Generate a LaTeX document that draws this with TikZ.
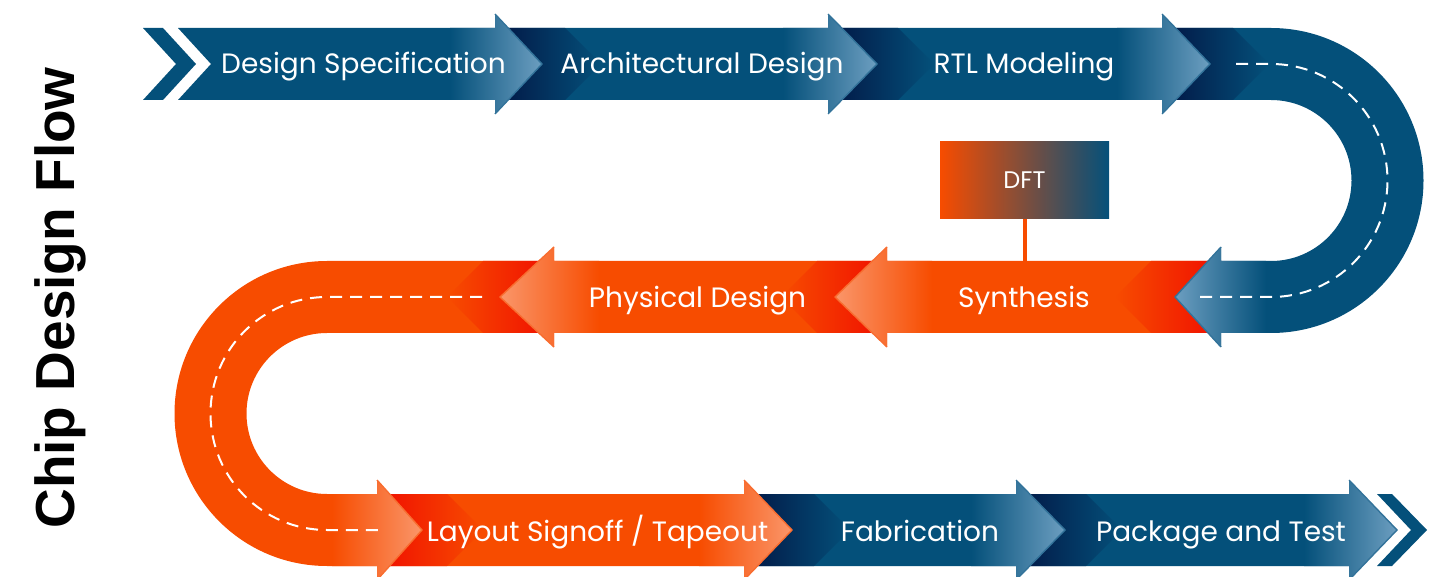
\documentclass[tikz,border=0pt]{standalone}
\usepackage{fontspec}
\setmainfont{Poppins}
\newfontfamily\titlefont{Liberation Sans}

\definecolor{flowblue}{RGB}{4,80,122}
\definecolor{flownavy}{RGB}{2,22,68}
\definecolor{flowblueTip}{RGB}{108,158,192}
\definecolor{floworange}{RGB}{247,76,0}
\definecolor{flowred}{RGB}{240,14,0}
\definecolor{floworangeTip}{RGB}{250,150,106}

\tikzset{
  steplabel/.style={text=white, font=\fontsize{14}{16}\selectfont, anchor=base, inner sep=0pt},
  roaddash/.style={draw=white, line width=1pt, dash pattern=on 6pt off 4pt},
  dftbox/.style={left color=floworange, right color=flowblue, minimum width=84.5pt,
    minimum height=38.5pt, inner sep=0pt, text=white, font=\fontsize{12}{14}\selectfont},
}

% arrow head of a band pointing right: base x, tip x, centre y, band colour, tip colour
\newcommand{\flowRhead}[5]{%
  \shade[left color=#4, right color=#5] (#1-45,#3-36) -- (#1,#3-36) -- (#1,#3-50) -- (#2,#3)
    -- (#1,#3+50) -- (#1,#3+36) -- (#1-45,#3+36) -- cycle;
  \draw[line width=0.7pt, #5!45!#4] (#1,#3-50) -- (#2,#3) -- (#1,#3+50);}
% arrow head of a band pointing left
\newcommand{\flowLhead}[5]{%
  \shade[right color=#4, left color=#5] (#1+45,#3-36) -- (#1,#3-36) -- (#1,#3-50) -- (#2,#3)
    -- (#1,#3+50) -- (#1,#3+36) -- (#1+45,#3+36) -- cycle;
  \draw[line width=0.7pt, #5!45!#4] (#1,#3-50) -- (#2,#3) -- (#1,#3+50);}
% band segment pointing right: start x, head base x, tip x, centre y, band, shadow, tip colour
\newcommand{\flowR}[7]{%
  \fill[#5] (#1,#4-36) -- (#2,#4-36) -- (#2,#4-50) -- (#3,#4) -- (#2,#4+50) -- (#2,#4+36)
    -- (#1,#4+36) -- cycle;
  \shade[left color=#6, right color=#5] (#1,#4-36) -- (#1+70,#4-36) -- (#1+106,#4)
    -- (#1+70,#4+36) -- (#1,#4+36) -- cycle;
  \flowRhead{#2}{#3}{#4}{#5}{#7}}
% band segment pointing left
\newcommand{\flowL}[7]{%
  \fill[#5] (#1,#4-36) -- (#2,#4-36) -- (#2,#4-50) -- (#3,#4) -- (#2,#4+50) -- (#2,#4+36)
    -- (#1,#4+36) -- cycle;
  \shade[right color=#6, left color=#5] (#1,#4-36) -- (#1-70,#4-36) -- (#1-106,#4)
    -- (#1-70,#4+36) -- (#1,#4+36) -- cycle;
  \flowLhead{#2}{#3}{#4}{#5}{#7}}

\begin{document}
\begin{tikzpicture}[x=0.5pt, y=-0.5pt]
\useasboundingbox (0,0) rectangle (1436,577);

% ---- bottom row, laid down from the end backwards so each head sits on the next band
\flowR{1016}{1349}{1397}{530}{flowblue}{flownavy}{flowblueTip}
\fill[flowblue] (1377,494) -- (1392,494) -- (1427,530) -- (1392,566) -- (1377,566) -- (1411,530) -- cycle;
\flowR{744}{1016}{1065}{530}{flowblue}{flownavy}{flowblueTip}
\flowR{377}{744}{792}{530}{floworange}{flowred}{floworangeTip}

% ---- left U-turn
\fill[floworange] (553,261) -- (327,261) arc[start angle=90, end angle=270, radius=76.25pt]
  -- (377,566) -- (377,580) -- (422,530) -- (377,480) -- (377,494) -- (327,494)
  arc[start angle=270, end angle=90, radius=40.25pt] -- (553,333) -- cycle;
\shade[right color=flowred, left color=floworange] (553,261) -- (483,261) -- (447,297)
  -- (483,333) -- (553,333) -- cycle;
\flowRhead{377}{422}{530}{floworange}{floworangeTip}
\draw[roaddash] (482,297) -- (327,297) arc[start angle=90, end angle=270, radius=58.25pt] -- (385,530);

% ---- middle row
\flowL{887}{554}{500}{297}{floworange}{flowred}{floworangeTip}
\flowL{1221}{887}{835}{297}{floworange}{flowred}{floworangeTip}

% ---- right U-turn
\fill[flowblue] (1163,28) -- (1271,28) arc[start angle=90, end angle=-90, radius=76.25pt]
  -- (1221,333) -- (1221,347) -- (1175,297) -- (1221,247) -- (1221,261) -- (1271,261)
  arc[start angle=-90, end angle=90, radius=40.25pt] -- (1163,100) -- cycle;
\shade[left color=flownavy, right color=flowblue] (1163,28) -- (1233,28) -- (1269,64)
  -- (1233,100) -- (1163,100) -- cycle;
\flowLhead{1221}{1175}{297}{flowblue}{flowblueTip}
\draw[roaddash] (1236,64) -- (1271,64) arc[start angle=90, end angle=-90, radius=58.25pt] -- (1198,297);

% ---- top row
\flowR{828}{1162}{1210}{64}{flowblue}{flownavy}{flowblueTip}
\flowR{495}{828}{877}{64}{flowblue}{flownavy}{flowblueTip}
\fill[flowblue] (178,28) -- (495,28) -- (495,14) -- (542,64) -- (495,114) -- (495,100)
  -- (178,100) -- (211,64) -- cycle;
\flowRhead{495}{542}{64}{flowblue}{flowblueTip}
\fill[flowblue] (143,28) -- (163,28) -- (196,64) -- (163,100) -- (143,100) -- (176,64) -- cycle;

% ---- DFT side step
\node[dftbox] (dft) at (1024.5,180.5) {\raisebox{-1.5pt}{DFT}};
\coordinate (synthtop) at (1026,261);
\draw[floworange, line width=2pt] (dft.south) -- (dft.south |- synthtop);

% ---- step labels
\node[steplabel] (spec)   at (363.5,73.5) {Design Specification};
\node[steplabel] (arch)   at (702,73.5)   {Architectural Design};
\node[steplabel] (rtl)    at (1024,73.5)  {RTL Modeling};
\node[steplabel] (synth)  at (1024,308)   {Synthesis};
\node[steplabel] (phys)   at (697.5,308)  {Physical Design};
\node[steplabel] (layout) at (597.5,541.5) {Layout Signoff / Tapeout};
\node[steplabel] (fab)    at (920,541.5)  {Fabrication};
\node[steplabel] (pkg)    at (1221,541.5) {Package and Test};

% ---- title
\node[rotate=90, anchor=base, inner sep=0pt, font=\titlefont\bfseries\fontsize{27.5}{30}\selectfont]
  (title) at (74,298) {Chip Design Flow};
\end{tikzpicture}
\end{document}
